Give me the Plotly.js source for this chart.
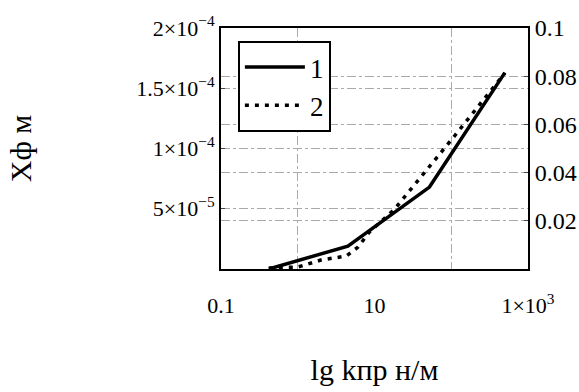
<!DOCTYPE html>
<html><head><meta charset="utf-8">
<script src="https://cdn.plot.ly/plotly-3.0.1.min.js"></script>
<style>html,body{margin:0;padding:0;background:#fff}</style>
</head><body><div id="chart" style="width:579px;height:392px"></div>
<script>
// Curve 1 (solid, left axis, metres)
var x1 = [0.42, 4.5, 52, 500];
var y1 = [0, 1.9e-5, 6.8e-5, 1.63e-4];
// Curve 2 (dotted, right axis)
var x2 = [0.42, 1.0, 2.0, 4.3, 6.1, 8.6, 17.9, 33.5, 65.6, 113, 206, 366, 500];
var y2 = [0.0004, 0.0008, 0.0037, 0.0054, 0.0091, 0.0154, 0.0245, 0.0349, 0.0461, 0.0556, 0.0660, 0.0763, 0.0813];
var names = ['1', '2'];
var xTickVals = [0.1, 10, 1000];
var xTickText = ['0.1', '10', '1×10<sup>3</sup>'];
var xMinorVals = [1, 100];
var yTickVals = [5e-5, 1e-4, 1.5e-4, 2e-4];
var yTickText = ['5×10<sup>−5</sup>', '1×10<sup>−4</sup>', '1.5×10<sup>−4</sup>', '2×10<sup>−4</sup>'];
var y2TickVals = [0.02, 0.04, 0.06, 0.08, 0.1];
var y2TickText = ['0.02', '0.04', '0.06', '0.08', '0.1'];

var serif = 'Times New Roman, Liberation Serif, DejaVu Serif, serif';
var grid = {gridcolor: '#aaa', gridwidth: 1, griddash: 'dashdot'};

var data = [
  {x: x1, y: y1, name: names[0], mode: 'lines', line: {color: '#000', width: 3.5}, yaxis: 'y'},
  {x: x2, y: y2, name: names[1], mode: 'lines', line: {color: '#000', width: 3.5, dash: '4px,6px'}, yaxis: 'y2'}
];
var layout = {
  width: 579, height: 392,
  margin: {l: 221, r: 51, t: 28, b: 123},
  paper_bgcolor: '#fff', plot_bgcolor: '#fff',
  font: {family: serif, color: '#000', size: 20},
  showlegend: true,
  legend: {x: 0.055, y: 0.946, xanchor: 'left', yanchor: 'top', bgcolor: '#fff', itemwidth: 60,
           bordercolor: '#000', borderwidth: 2, font: {family: serif, size: 27}},
  xaxis: {type: 'log', range: [-1, 3], tickmode: 'array', tickvals: xTickVals, ticktext: xTickText,
    showline: true, mirror: true, linecolor: '#000', linewidth: 2, ticks: '', zeroline: false, ticklabelstandoff: 16,
    showgrid: false, minor: {tickvals: xMinorVals, showgrid: true, gridcolor: '#aaa', griddash: 'dashdot', ticks: ''},
    tickfont: {family: serif, size: 22}, title: {text: 'lg kпр н/м', font: {family: serif, size: 30}, standoff: 42}, automargin: false},
  yaxis: Object.assign({range: [0, 2e-4], tickmode: 'array', tickvals: yTickVals, ticktext: yTickText,
    showline: true, linecolor: '#000', linewidth: 2, ticks: 'inside', ticklen: 4, zeroline: false, showgrid: true,
    tickfont: {family: serif, size: 22}, title: {text: 'Xф м', font: {family: serif, size: 30}, standoff: 96}, automargin: false}, grid),
  yaxis2: Object.assign({range: [0, 0.1], overlaying: 'y', side: 'right', tickmode: 'array', tickvals: y2TickVals, ticktext: y2TickText,
    showline: true, linecolor: '#000', linewidth: 2, ticks: 'inside', ticklen: 4, zeroline: false, showgrid: true,
    tickfont: {family: serif, size: 24}, automargin: false}, grid)
};
Plotly.newPlot('chart', data, layout, {displayModeBar: false, staticPlot: true});
</script></body></html>
